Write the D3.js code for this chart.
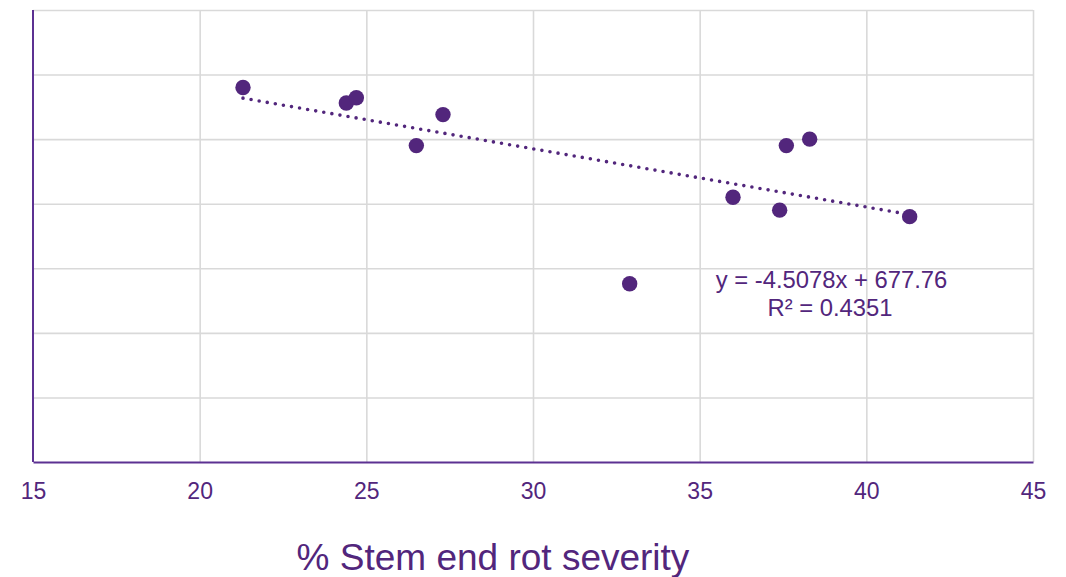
<!DOCTYPE html>
<head>
  <meta charset="utf-8">
  <script src="https://d3js.org/d3.v7.min.js"></script>
  <style>
    body { margin:0; background:#fff; }
    text { font-family: "Liberation Sans", Arial, sans-serif; }
  </style>
</head>

<body>
<svg width="1066" height="577"></svg>
<script>

// % stem end rot severity vs. (unlabelled) y value
const severity = [21.3, 24.4, 24.7, 26.5, 27.3, 32.9, 36.0, 37.4, 37.6, 38.3, 41.3]
const yield_  = [590, 578, 582, 545, 569, 438, 505, 495, 545, 550, 490]
const xTicks  = [15, 20, 25, 30, 35, 40, 45]
const yGrid   = [300, 350, 400, 450, 500, 550, 600, 650]
const slope = -4.5078, intercept = 677.76, r2 = 0.4351

const purple = '#52267c',
      axisCol = '#5c3192',
      gridCol = '#d9d9d9'

const svg = d3.select("svg"),
      mLeft = 33, mRight = 1033, mTop = 10, mBottom = 462

const x = d3.scaleLinear().domain([15, 45]).range([mLeft, mRight])
const y = d3.scaleLinear().domain([300, 650]).range([mBottom, mTop])

// grid
svg.append("g")
  .attr("transform", `translate(0,${mBottom})`)
  .call(d3.axisBottom(x).tickValues(xTicks.slice(1)).tickSize(-(mBottom - mTop)).tickFormat(""))
  .call(g => g.select(".domain").remove())
  .selectAll("line").attr("stroke", gridCol).attr("stroke-width", 1.6)

svg.append("g")
  .attr("transform", `translate(${mLeft},0)`)
  .call(d3.axisLeft(y).tickValues(yGrid.slice(1)).tickSize(-(mRight - mLeft)).tickFormat(""))
  .call(g => g.select(".domain").remove())
  .selectAll("line").attr("stroke", gridCol).attr("stroke-width", 1.6)

// axis lines
svg.append("line")
    .attr("x1", mLeft).attr("x2", mLeft).attr("y1", mTop).attr("y2", mBottom)
    .attr("stroke", axisCol).attr("stroke-width", 2)

const xAxis = svg.append("g")
  .attr("transform", `translate(0,${mBottom})`)
  .call(d3.axisBottom(x).tickValues(xTicks).tickSize(0).tickPadding(21))
xAxis.select(".domain").attr("stroke", axisCol).attr("stroke-width", 2)
xAxis.selectAll("text").attr("fill", purple).attr("font-size", 23)

// trendline
const xr = d3.extent(severity)
svg.append("line")
    .attr("x1", x(xr[0])).attr("y1", y(slope * xr[0] + intercept))
    .attr("x2", x(xr[1])).attr("y2", y(slope * xr[1] + intercept))
    .attr("stroke", purple)
    .attr("stroke-width", 3.6)
    .attr("stroke-linecap", "round")
    .attr("stroke-dasharray", "0 8.2")

// points
svg.append("g")
  .selectAll("circle")
  .data(severity)
  .enter().append("circle")
    .attr("cx", d => x(d))
    .attr("cy", (d, i) => y(yield_[i]))
    .attr("r", 7.7)
    .attr("fill", purple)

// equation
const eq = svg.append("text")
    .attr("fill", purple)
    .attr("font-size", 23.8)
    .attr("text-anchor", "middle")
eq.append("tspan").attr("x", 831.5).attr("y", 288)
    .text(`y = ${slope}x + ${intercept}`)
eq.append("tspan").attr("x", 830).attr("y", 315.5)
    .text(`R² = ${r2}`)

// x title
svg.append("text")
    .attr("x", 493)
    .attr("y", 570)
    .attr("text-anchor", "middle")
    .attr("fill", purple)
    .attr("font-size", 37)
    .text("% Stem end rot severity")

</script>
</body>
